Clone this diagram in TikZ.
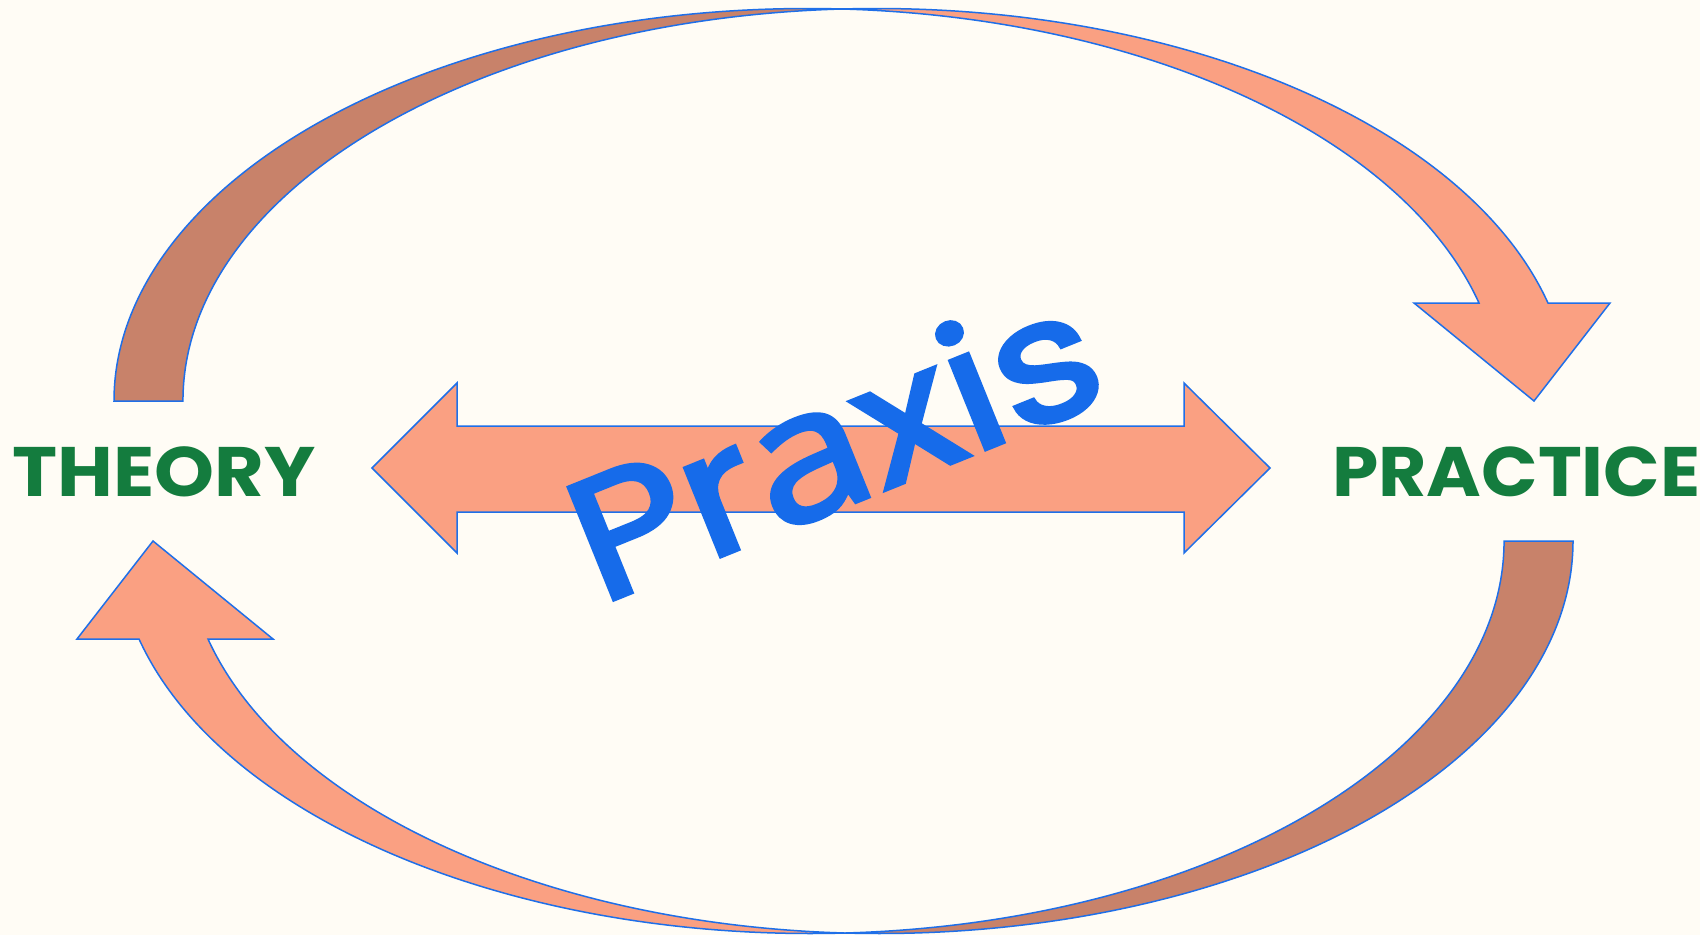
\documentclass[tikz,border=0pt]{standalone}
\usepackage{fontspec}
\newfontfamily\poppins{Poppins}
\newfontfamily\praxisfont{Poppins}[FakeBold=2.5]
\newfontfamily\praxisafont{Open Sans}[FakeBold=2.5]
\definecolor{bgcol}{HTML}{FFFCF5}
\definecolor{salmon}{HTML}{FAA082}
\definecolor{brownish}{HTML}{C8826A}
\definecolor{edgeblue}{HTML}{1F6FE8}
\definecolor{praxisblue}{HTML}{166BEA}
\definecolor{labelgreen}{HTML}{147C3E}
\begin{document}
\begin{tikzpicture}[x=1pt,y=-1pt,
  band/.style={draw=edgeblue,line width=1.5pt,line join=miter},
  label/.style={inner sep=0pt,anchor=base west,text=labelgreen,font=\poppins\bfseries\fontsize{70}{70}\selectfont},
  praxis/.style={inner sep=0pt,anchor=base west,text=praxisblue,font=\praxisfont\fontsize{173}{173}\selectfont}]
\fill[bgcol] (0,0) rectangle (1700,935);
\useasboundingbox (0,0) rectangle (1700,935);
% top curved arrow
\newcommand\curvedarrow{%
  \path[band,fill=brownish] (114,401) arc[start angle=180,end angle=272.85,x radius=693.5,y radius=392.5]
     arc[start angle=267.15,end angle=180,x radius=693.5,y radius=392.5] -- cycle;
  \path[band,fill=salmon] (842,9) arc[start angle=267.15,end angle=345.54,x radius=693.5,y radius=392.5]
     -- (1610,303) -- (1534,401) -- (1414,303) -- (1479,303)
     arc[start angle=345.54,end angle=272.85,x radius=693.5,y radius=392.5] -- cycle;
}
\curvedarrow
\begin{scope}[rotate around={180:(843.5,471)}]
\curvedarrow
\end{scope}
% double arrow
\path[band,fill=salmon] (372,468) -- (457,383) -- (457,426) -- (1184,426) -- (1184,383) -- (1270,468)
  -- (1184,553) -- (1184,512) -- (457,512) -- (457,553) -- cycle;
\node[label] (theory) at (12,496) {\scalebox{1.09}[1]{THEORY}};
\node[label] (practice) at (1332,496) {\scalebox{1.06}[1]{PRACTICE}};
\node[praxis,rotate=22] (praxis) at (600,605) {\scalebox{1.15}[1]{Pr{\praxisafont\fontsize{182}{182}\selectfont a}xis}};
\end{tikzpicture}
\end{document}
